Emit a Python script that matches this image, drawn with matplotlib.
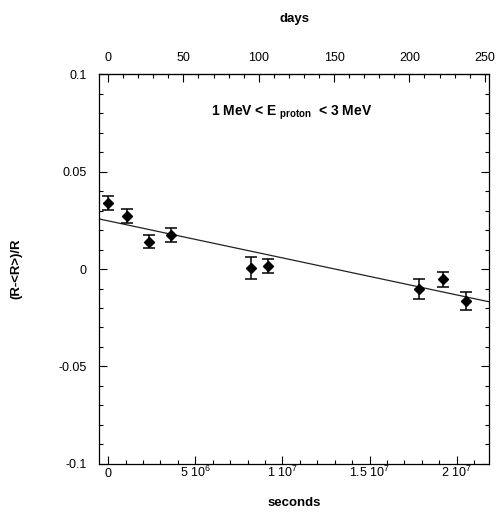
"""
Relative rate variation vs. time for 1-3 MeV protons, with a linear fit.
"""
import numpy as np
import matplotlib.pyplot as plt
from matplotlib.ticker import FixedLocator, MultipleLocator

plt.rcParams["font.family"] = ["Liberation Sans", "DejaVu Sans"]
plt.rcParams["mathtext.default"] = "regular"

# data
seconds = [0.0, 1.1e6, 2.35e6, 3.6e6, 8.2e6, 9.15e6, 17.85e6, 19.2e6, 20.55e6]
rel_rate = [0.0337, 0.0271, 0.0141, 0.0174, 0.0004, 0.0014, -0.0104, -0.0053, -0.0164]
rel_err = [0.0036, 0.0035, 0.0031, 0.0034, 0.0055, 0.0036, 0.0051, 0.0040, 0.0045]

# fitted straight line (value at t=0 and slope per second)
fit_intercept = 0.0247
fit_slope = -1.90e-9

sec_ticks = [0, 5e6, 1e7, 1.5e7, 2e7]
sec_labels = ["0", "5 10$^{6}$", "1 10$^{7}$", "1.5 10$^{7}$", "2 10$^{7}$"]
y_ticks = [-0.1, -0.05, 0, 0.05, 0.1]
y_labels = ["-0.1", "-0.05", "0", "0.05", "0.1"]
day_ticks = [0, 50, 100, 150, 200, 250]

SEC_PER_DAY = 86400.0
x_min, x_max = -0.52e6, 21.85e6

fig = plt.figure(figsize=(4.96, 5.14), dpi=100)
ax = fig.add_axes([0.1996, 0.0973, 0.7864, 0.7587])

x_line = np.array([x_min, x_max])
ax.plot(x_line, fit_intercept + fit_slope * x_line, color="#222222", lw=0.9)
ax.errorbar(seconds, rel_rate, yerr=rel_err, fmt="D", color="black",
            markersize=5.5, capsize=4.5, elinewidth=1.1, capthick=1.1)

ax.set_xlim(x_min, x_max)
ax.set_ylim(-0.1, 0.1)

ax.xaxis.set_major_locator(FixedLocator(sec_ticks))
ax.set_xticklabels(sec_labels)
ax.xaxis.set_minor_locator(MultipleLocator(1e6))
ax.yaxis.set_major_locator(FixedLocator(y_ticks))
ax.set_yticklabels(y_labels)
ax.yaxis.set_minor_locator(MultipleLocator(0.01))

ax.tick_params(which="both", direction="in", top=False, right=True,
               labelsize=9, width=0.8, color="black")
ax.tick_params(which="major", length=6)
ax.tick_params(which="minor", length=3)
ax.tick_params(axis="x", which="major", pad=9.5)
ax.tick_params(axis="y", which="major", pad=9)
for lab in ax.get_xticklabels():
    lab.set_verticalalignment("baseline")

for sp in ax.spines.values():
    sp.set_linewidth(0.9)

top = ax.secondary_xaxis("top", functions=(lambda s: s / SEC_PER_DAY,
                                            lambda d: d * SEC_PER_DAY))
top.xaxis.set_major_locator(FixedLocator(day_ticks))
top.xaxis.set_minor_locator(MultipleLocator(10))
top.tick_params(which="both", direction="in", labelsize=9, width=0.8)
top.tick_params(which="major", length=6, pad=7)
top.tick_params(which="minor", length=3)
top.set_xlabel("days", fontsize=9.5, fontweight="bold", labelpad=22)

ax.set_xlabel("seconds", fontsize=9.5, fontweight="bold", labelpad=12)
ax.set_ylabel("(R-<R>)/R", fontsize=9.5, fontweight="bold", labelpad=26)

ax.text(0.495, 0.901, r"1 MeV < E$_{\ proton}$  < 3 MeV", transform=ax.transAxes,
        ha="center", va="center", fontsize=10, fontweight="bold")

fig.savefig("out.png", dpi=100)
